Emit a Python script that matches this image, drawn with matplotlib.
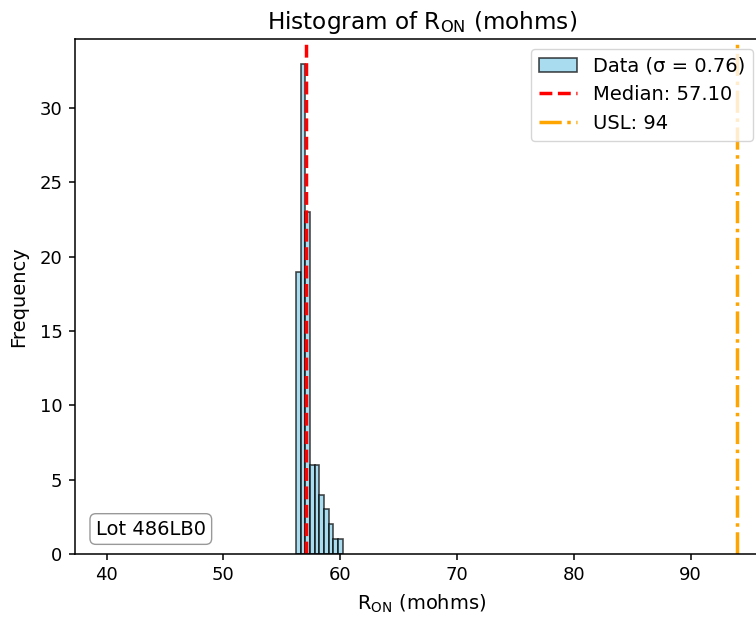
import numpy as np
import matplotlib.pyplot as plt

# ---------------------- data ----------------------
bin_edges = [56.22, 56.62, 57.02, 57.42, 57.82, 58.22, 58.62, 59.02, 59.42, 59.82, 60.22]
counts = [19, 33, 23, 6, 6, 4, 3, 2, 1, 1]
median_val = 57.10
usl = 94
sigma = 0.76
lot = "486LB0"
x_range = [40, 94]
# --------------------------------------------------

fig = plt.figure(figsize=(7.56, 6.2), dpi=100)
# original figure was cropped on the right, so the axes run past the edge
ax = fig.add_axes([0.0992, 0.1065, 0.918, 0.8305])

ax.hist(bin_edges[:-1], bins=bin_edges, weights=counts, color='skyblue',
        edgecolor='black', alpha=0.7, linewidth=1.2, label=f'Data (σ = {sigma:.2f})')
ax.axvline(median_val, color='red', linestyle='--', linewidth=2.5,
           label=f'Median: {median_val:.2f}')
ax.axvline(usl, color='orange', linestyle='-.', linewidth=2.5,
           label=f'USL: {usl}')

span = x_range[1] - x_range[0]
ax.set_xlim(x_range[0] - 0.05 * span, x_range[1] + 0.05 * span)

ax.set_title('Histogram of R$_{\\mathrm{ON}}$ (mohms)', fontsize=16.7, pad=7)
ax.set_xlabel('R$_{\\mathrm{ON}}$ (mohms)', fontsize=14, labelpad=6)
ax.set_ylabel('Frequency', fontsize=14, labelpad=8)
ax.tick_params(labelsize=13, length=4.5, pad=4.5, width=1.1)
for sp in ax.spines.values():
    sp.set_linewidth(1.1)

ax.text(0.03, 0.03, f'Lot {lot}', transform=ax.transAxes, fontsize=14,
        va='bottom', ha='left',
        bbox=dict(boxstyle='round', facecolor='white', edgecolor='gray', alpha=0.8))

leg = ax.legend(loc='upper right', fontsize=14, bbox_to_anchor=(0.991, 1.0))

fig.savefig('out.png', dpi=100)
